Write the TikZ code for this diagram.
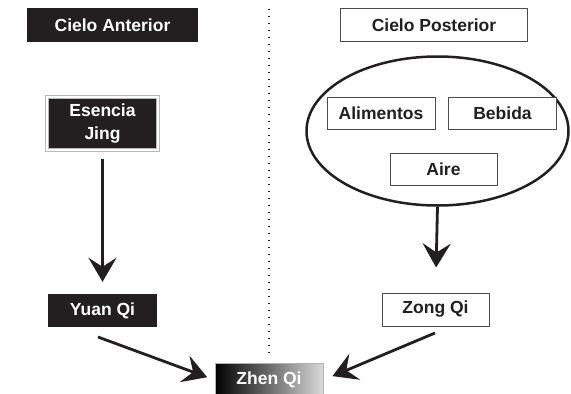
\documentclass[tikz,border=0pt]{standalone}
\usepackage{fontspec}
\setmainfont{Liberation Sans}
\usetikzlibrary{shapes.geometric,arrows.meta}
\definecolor{inkdark}{HTML}{231F20}

\begin{document}
\begin{tikzpicture}
  [x=1pt,y=-1pt,
   every node/.style={font=\fontsize{17.5}{23}\selectfont\bfseries,inner sep=0pt,align=center},
   darkbox/.style={fill=inkdark,text=white,minimum width=109pt,minimum height=33pt},
   lightbox/.style={draw=inkdark!80,line width=1pt,fill=white,text=inkdark,minimum width=108pt,minimum height=32pt},
   flow/.style={draw=inkdark,line width=2.8pt,-{Stealth[length=24pt,width=28pt,inset=9pt]}}]
  \clip (0,0) rectangle (571,394);
  % titles and divider
  \node[darkbox,minimum width=171pt,minimum height=34pt] (ant) at (112.5,25) {Cielo Anterior};
  \node[lightbox,minimum width=187pt,minimum height=33pt] (post) at (434,25) {Cielo Posterior};
  \coordinate (dtop) at (269,9);
  \coordinate (dbot) at (269,358);
  \draw[inkdark,line width=1.3pt,dash pattern=on 1.3pt off 5.7pt] (dtop) -- (dbot);
  % left side
  \node[darkbox,draw=gray!55,line width=0.8pt,double=white,double distance=2pt,
        minimum width=111pt,minimum height=53pt] (jing) at (102.5,123.5) {Esencia\\Jing};
  \node[darkbox] (yuan) at (102.5,310.5) {Yuan Qi};
  % right side
  \node[draw=inkdark,line width=2.5pt,ellipse,minimum width=262pt,minimum height=149pt] (aportes) at (437.5,131) {};
  \node[lightbox] (alim) at (381,113) {Alimentos};
  \node[lightbox] (beb) at (502.5,113) {Bebida};
  \node[lightbox,minimum width=107pt] (aire) at (443.5,169) {Aire};
  \node[lightbox,minimum width=107pt,minimum height=33pt] (zong) at (435.5,309.5) {Zong Qi};
  % result
  \node[draw=gray!60,line width=0.6pt,left color=black,right color=gray!30,text=white,
        minimum width=108pt,minimum height=34pt] (zhen) at (269,380) {Zhen Qi};
  \coordinate (yq) at (98,337);
  \coordinate (zq) at (435,333);

  \foreach \from/\to/\ga/\gb in {jing/yuan/9/12,aportes/zong/0/25}
    \draw[flow,shorten <=\ga pt,shorten >=\gb pt] (\from.south) -- (\to.north);
  \draw[flow,shorten >=8pt] (yq) -- (zhen.west);
  \draw[flow,shorten >=10pt] (zq) -- (zhen.east);

\end{tikzpicture}
\end{document}
